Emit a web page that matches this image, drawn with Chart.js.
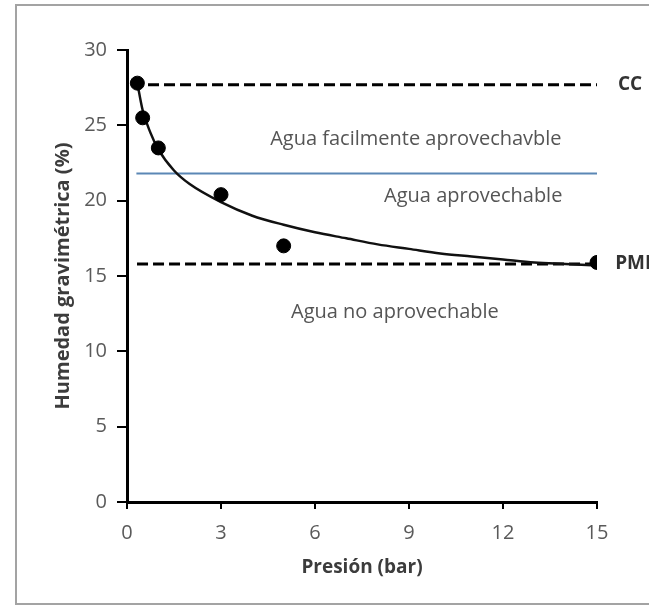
<!DOCTYPE html>
<html>
<head>
<meta charset="utf-8">
<script src="https://cdn.jsdelivr.net/npm/chart.js@4.4.1/dist/chart.umd.min.js"></script>
<style>
  html, body { margin: 0; padding: 0; background: #fff; overflow: hidden; }
  #frame { position: absolute; left: 15px; top: 4px; width: 700px; height: 601px; border: 2px solid #a3a3a3; box-sizing: border-box; }
  #c { position: absolute; left: 0; top: 0; }
</style>
</head>
<body>
<div id="frame"></div>
<canvas id="c" width="649" height="606"></canvas>
<script>
// Measured retention points: pressure (bar) vs gravimetric moisture (%)
const presion = [0.33, 0.5, 1, 3, 5, 15];
const humedad = [27.8, 25.5, 23.5, 20.4, 17.0, 15.9];

// Fitted retention curve, read along its length
const curvaPresion = [0.33, 0.5, 0.75, 1, 1.5, 2, 3, 4, 5, 6, 7, 8, 9, 10, 11, 12, 13, 14, 15];
const curvaHumedad = [27.8, 26.0, 24.5, 23.4, 22.0, 21.1, 19.9, 19.0, 18.4, 17.9, 17.5, 17.1, 16.8, 16.5, 16.3, 16.1, 15.9, 15.8, 15.7];

// Reference levels
const capacidadCampo = 27.7;      // CC
const umbralFacil = 21.8;         // easily available water limit
const puntoMarchitez = 15.8;      // PMP

// Axis ticks
const ticksX = [0, 3, 6, 9, 12, 15];
const ticksY = [0, 5, 10, 15, 20, 25, 30];

const pts = presion.map((x, i) => ({ x, y: humedad[i] }));
const curva = curvaPresion.map((x, i) => ({ x, y: curvaHumedad[i] }));

// Region and level labels, anchored in data units
const etiquetas = [
  { text: 'Agua facilmente aprovechavble', x: 9.22, y: 24.1, align: 'center', bold: false },
  { text: 'Agua aprovechable', x: 11.05, y: 20.27, align: 'center', bold: false },
  { text: 'Agua no aprovechable', x: 8.55, y: 12.56, align: 'center', bold: false },
  { text: 'CC', x: 15.67, y: capacidadCampo, align: 'left', bold: true },
  { text: 'PMP', x: 15.58, y: puntoMarchitez, align: 'left', bold: true }
];

const labelPlugin = {
  id: 'regionLabels',
  afterDatasetsDraw(chart) {
    const { ctx, scales } = chart;
    ctx.save();
    ctx.textBaseline = 'middle';
    etiquetas.forEach(l => {
      ctx.font = (l.bold ? 'bold 19px' : '20px') + ' "Open Sans", sans-serif';
      ctx.fillStyle = l.bold ? '#333333' : '#555555';
      ctx.textAlign = l.align;
      ctx.fillText(l.text, scales.x.getPixelForValue(l.x), scales.y.getPixelForValue(l.y));
    });
    ctx.restore();
  }
};

new Chart(document.getElementById('c'), {
  type: 'scatter',
  data: {
    datasets: [
      { data: pts, backgroundColor: '#000', borderColor: '#000', pointRadius: 7, pointHoverRadius: 7 },
      { data: curva, showLine: true, borderColor: '#111', borderWidth: 2.5, pointRadius: 0, cubicInterpolationMode: 'monotone', fill: false },
      { data: [{ x: 0.16, y: capacidadCampo }, { x: 15, y: capacidadCampo }], showLine: true, borderColor: '#000', borderWidth: 3, borderDash: [11, 5], pointRadius: 0 },
      { data: [{ x: 0.32, y: puntoMarchitez }, { x: 15, y: puntoMarchitez }], showLine: true, borderColor: '#000', borderWidth: 3, borderDash: [11, 5], pointRadius: 0 },
      { data: [{ x: 0.3, y: umbralFacil }, { x: 15, y: umbralFacil }], showLine: true, borderColor: '#5b87b5', borderWidth: 2, pointRadius: 0 }
    ]
  },
  options: {
    responsive: false,
    animation: false,
    events: [],
    layout: { padding: { left: 0, right: 52, top: 50, bottom: 0 } },
    plugins: { legend: { display: false }, tooltip: { enabled: false } },
    scales: {
      x: {
        type: 'linear', min: 0, max: 15,
        afterBuildTicks(s) { s.ticks = ticksX.map(v => ({ value: v })); },
        afterFit(s) { s.height = 104; },
        grid: { drawOnChartArea: false, drawTicks: true, tickLength: 7, color: '#000', lineWidth: 2 },
        border: { color: '#000', width: 3 },
        ticks: { color: '#5a5a5a', padding: 12, font: { family: 'Open Sans', size: 20 } },
        title: { display: true, text: 'Presión (bar)', color: '#3c3c3c', font: { family: 'Open Sans', size: 19, weight: 'bold' }, padding: { top: 10, bottom: 27 } }
      },
      y: {
        type: 'linear', min: 0, max: 30,
        afterBuildTicks(s) { s.ticks = ticksY.map(v => ({ value: v })); },
        afterFit(s) { s.width = 127; },
        grid: { drawOnChartArea: false, drawTicks: true, tickLength: 10, color: '#000', lineWidth: 2 },
        border: { color: '#000', width: 3 },
        ticks: { color: '#5a5a5a', padding: 10, font: { family: 'Open Sans', size: 20 } },
        title: { display: true, text: 'Humedad gravimétrica (%)', color: '#3c3c3c', font: { family: 'Open Sans', size: 20, weight: 'bold' }, padding: { top: 51, bottom: 10 } }
      }
    }
  },
  plugins: [labelPlugin]
});
</script>
</body>
</html>
